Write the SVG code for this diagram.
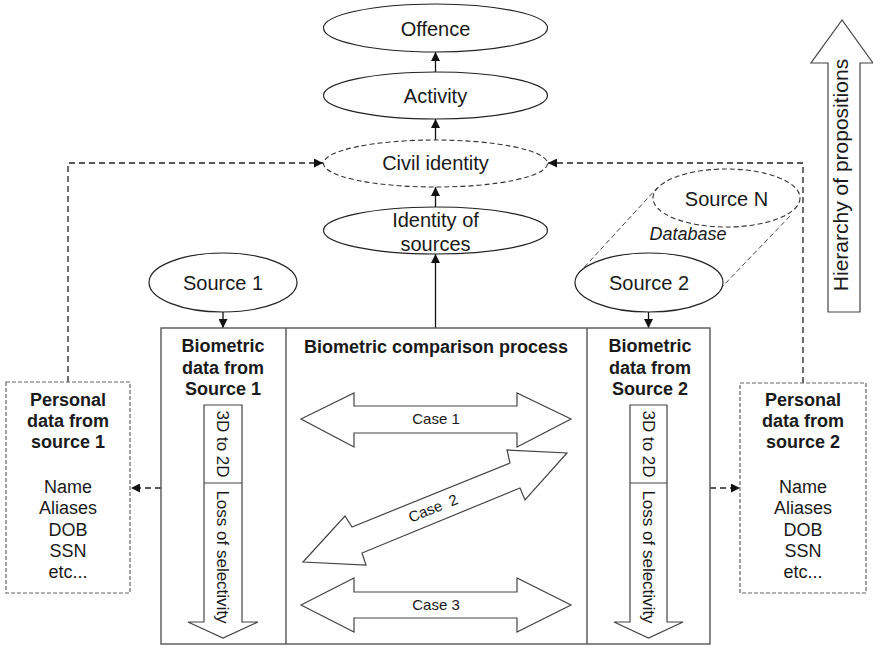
<svg xmlns="http://www.w3.org/2000/svg" width="873" height="648" viewBox="0 0 873 648">
<defs>
<marker id="ah" viewBox="0 0 10 10" refX="10" refY="5" markerWidth="9" markerHeight="9" markerUnits="userSpaceOnUse" orient="auto">
<path d="M0,0 L10,5 L0,10 z" fill="#111"/>
</marker>
<style>
.t{font-family:"Liberation Sans",Arial,sans-serif;fill:#1a1a1a;text-anchor:middle}
.n{font-size:20px}
.b{font-size:18px;font-weight:bold}
.r{font-size:18px}
.s{font-size:17px}
.c{font-size:15px}
.el{fill:#fff;stroke:#222;stroke-width:1.2}
.dl{fill:#fff;stroke:#333;stroke-width:1.1;stroke-dasharray:5,3}
.box{fill:#fff;stroke:#555;stroke-width:1.4}
.dbox{fill:#fff;stroke:#666;stroke-width:1.2;stroke-dasharray:4,2}
.sh{fill:#fff;stroke:#444;stroke-width:1.2}
.ln{fill:none;stroke:#111;stroke-width:1.3}
.dc{fill:none;stroke:#222;stroke-width:1.3;stroke-dasharray:6,4}
.db{fill:none;stroke:#444;stroke-width:1;stroke-dasharray:5,3}
</style>
</defs>
<rect width="873" height="648" fill="#fff"/>

<g id="connectors">
<line class="ln" x1="435.5" y1="72" x2="435.5" y2="52" marker-end="url(#ah)"/>
<line class="ln" x1="435.5" y1="140" x2="435.5" y2="119" marker-end="url(#ah)"/>
<line class="ln" x1="435.5" y1="207" x2="435.5" y2="187" marker-end="url(#ah)"/>
<line class="ln" x1="435.5" y1="328" x2="435.5" y2="254" marker-end="url(#ah)"/>
<line class="ln" x1="223" y1="312" x2="223" y2="328" marker-end="url(#ah)"/>
<line class="ln" x1="648.5" y1="312" x2="648.5" y2="328" marker-end="url(#ah)"/>
<path class="dc" d="M68,382 L68,163 L323,163" marker-end="url(#ah)"/>
<path class="dc" d="M803,383 L803,163 L548,163" marker-end="url(#ah)"/>
<line class="dc" stroke-dasharray="4,3" x1="161" y1="488" x2="131" y2="488" marker-end="url(#ah)"/>
<line class="dc" stroke-dasharray="4,3" x1="710" y1="488" x2="740" y2="488" marker-end="url(#ah)"/>
</g>

<g id="offence">
<ellipse class="el" cx="435.5" cy="28" rx="112" ry="24"/>
<text class="t n" x="435.5" y="35.5">Offence</text>
</g>
<g id="activity">
<ellipse class="el" cx="435.5" cy="95.5" rx="112" ry="23.5"/>
<text class="t n" x="435.5" y="102.5">Activity</text>
</g>
<g id="civil-identity">
<ellipse class="dl" cx="435.5" cy="163.5" rx="112" ry="23.5"/>
<text class="t n" x="435.5" y="170">Civil identity</text>
</g>
<g id="identity-of-sources">
<ellipse class="el" cx="435.5" cy="230.5" rx="112" ry="23.5"/>
<text class="t n" x="435.5" y="226.5">Identity of</text>
<text class="t n" x="435.5" y="250.5">sources</text>
</g>

<g id="source-1">
<ellipse class="el" cx="223" cy="282.5" rx="74" ry="29.5"/>
<text class="t n" x="223" y="290">Source 1</text>
</g>

<g id="database">
<line class="db" x1="579" y1="273" x2="657" y2="188"/>
<line class="db" x1="720" y1="289" x2="792" y2="214"/>
<ellipse class="dl" cx="726.5" cy="198" rx="73.5" ry="29"/>
<text class="t n" x="726.5" y="206">Source N</text>
<text class="t r" x="688" y="240" font-style="italic">Database</text>
</g>
<g id="source-2">
<ellipse class="el" cx="649" cy="282.5" rx="74" ry="29.5"/>
<text class="t n" x="649" y="290">Source 2</text>
</g>

<g id="hierarchy">
<polygon class="sh" points="828,312 860,312 860,63 873,63 842,20 811,63 828,63"/>
<text class="t" font-size="21" transform="translate(848,175) rotate(-90)" x="0" y="0">Hierarchy of propositions</text>
</g>

<g id="main-box">
<rect class="box" x="161" y="328" width="549" height="316"/>
<line class="box" x1="286" y1="328" x2="286" y2="644"/>
<line class="box" x1="587" y1="328" x2="587" y2="644"/>
</g>

<g id="biometric-1">
<text class="t b" x="223" y="352">Biometric</text>
<text class="t b" x="223" y="374">data from</text>
<text class="t b" x="223" y="395">Source 1</text>
<polygon class="sh" points="204,405 242,405 242,622 258,622 223,638 188,622 204,622"/>
<line class="sh" x1="204" y1="483" x2="242" y2="483"/>
<text class="t s" transform="translate(217,444) rotate(90)">3D to 2D</text>
<text class="t s" transform="translate(217,557) rotate(90)">Loss of selectivity</text>
</g>

<g id="comparison">
<text class="t b" x="436" y="353">Biometric comparison process</text>
<polygon class="sh" points="301,419 354,393 354,406 517,406 517,393 571,419 517,447 517,433 354,433 354,447"/>
<text class="t c" x="436" y="424">Case 1</text>
<polygon class="sh" points="303,562 345,516 352,527 510,463 507,450 567,453 525,500 520,488 362,553 366,565"/>
<text class="t c" transform="translate(435,513) rotate(-22)" style="white-space:pre">Case  2</text>
<polygon class="sh" points="301,605 354,578 354,592 517,592 517,578 571,605 517,632 517,618 354,618 354,632"/>
<text class="t c" x="436" y="610">Case 3</text>
</g>

<g id="biometric-2">
<text class="t b" x="650" y="352">Biometric</text>
<text class="t b" x="650" y="374">data from</text>
<text class="t b" x="650" y="395">Source 2</text>
<polygon class="sh" points="630,405 667,405 667,622 683,622 648.5,638 614,622 630,622"/>
<line class="sh" x1="630" y1="483" x2="667" y2="483"/>
<text class="t s" transform="translate(642.5,444) rotate(90)">3D to 2D</text>
<text class="t s" transform="translate(642.5,557) rotate(90)">Loss of selectivity</text>
</g>

<g id="personal-1">
<rect class="dbox" x="6" y="382" width="124" height="211"/>
<text class="t b" x="68" y="406">Personal</text>
<text class="t b" x="68" y="427">data from</text>
<text class="t b" x="68" y="448">source 1</text>
<text class="t r" x="68" y="493">Name</text>
<text class="t r" x="68" y="514">Aliases</text>
<text class="t r" x="68" y="536">DOB</text>
<text class="t r" x="68" y="557">SSN</text>
<text class="t r" x="68" y="578">etc...</text>
</g>

<g id="personal-2">
<rect class="dbox" x="740" y="383" width="126" height="210"/>
<text class="t b" x="803" y="406">Personal</text>
<text class="t b" x="803" y="427">data from</text>
<text class="t b" x="803" y="448">source 2</text>
<text class="t r" x="803" y="493">Name</text>
<text class="t r" x="803" y="514">Aliases</text>
<text class="t r" x="803" y="536">DOB</text>
<text class="t r" x="803" y="557">SSN</text>
<text class="t r" x="803" y="578">etc...</text>
</g>
</svg>
